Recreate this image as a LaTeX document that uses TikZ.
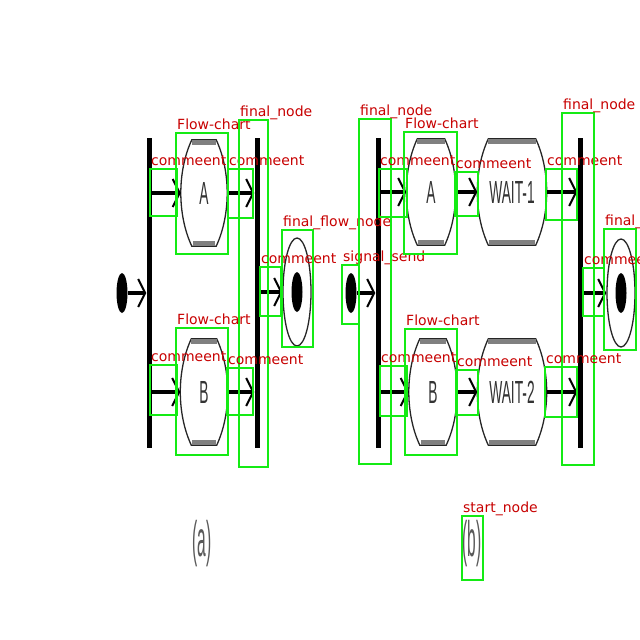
\documentclass[tikz,border=0pt]{standalone}
\usepackage{fontspec}
\usepackage{graphicx}
\usetikzlibrary{shapes.geometric, arrows.meta, calc}
\newfontfamily\fuenteEtiqueta{DejaVu Sans}
\newfontfamily\fuenteDiagrama{Liberation Sans}
\definecolor{colorCaja}{RGB}{20,235,20}
\definecolor{colorEtiqueta}{RGB}{200,0,0}
\newcommand{\apretado}[1]{\scalebox{0.43}[1]{#1}}

\begin{document}
\begin{tikzpicture}[
        x=1pt, y=-1pt,
        act/.style={inner sep=0, minimum height=106pt, text=black!80, font=\fuenteDiagrama\fontsize{32}{34}\selectfont},
        borde/.style={draw=black!85, line width=1.3pt},
        bar/.style={fill=black, inner sep=0, minimum width=5pt, minimum height=310pt},
        ini/.style={ellipse, fill=black, inner sep=0, minimum width=11pt, minimum height=40pt},
        fin/.style={ellipse, draw=black!85, line width=1.3pt, inner sep=0, minimum width=28pt, minimum height=108pt,
            path picture={\fill[black] (path picture bounding box.center) ellipse (5.5pt and 20pt);}},
        flow/.style={line width=3.5pt, -{Straight Barb[length=7pt, width=28pt, line width=2pt]}},
        tapa/.style={line width=5pt, black!50},
        caja/.style={draw=colorCaja, line width=2.5pt},
        etq/.style={anchor=base west, inner sep=0, text=colorEtiqueta, font=\fuenteEtiqueta\fontsize{14}{16}\selectfont},
        sub/.style={text=black!65, font=\fuenteDiagrama\fontsize{50}{52}\selectfont}
    ]
    \fill[white] (0,0) rectangle (640,640);
    \useasboundingbox (0,0) rectangle (640,640);

    % (a)
    \node[ini] (ia) at (122,293) {};
    \node[bar] (fa) at (149,293) {};
    \node[act, minimum width=46pt] (a1) at (204,193) {\apretado{A}};
    \node[act, minimum width=47pt] (b1) at (204,392) {\apretado{B}};
    \node[bar] (ja) at (257,293) {};
    \node[fin] (ffa) at (297,292) {};
    \node[sub] (capa) at (202,544) {\scalebox{0.31}[1]{(a)}};

    % (b)
    \node[ini] (ib) at (351,293) {};
    \node[bar] (fb) at (378,293) {};
    \node[act, minimum width=49pt] (a2) at (431,192) {\apretado{A}};
    \node[act, minimum width=69pt] (w1) at (512,192) {\apretado{WAIT-1}};
    \node[act, minimum width=48pt] (b2) at (433,392) {\apretado{B}};
    \node[act, minimum width=69pt] (w2) at (512,392) {\apretado{WAIT-2}};
    \node[bar] (jb) at (580,293) {};
    \node[fin] (ffb) at (621,293) {};
    \node[sub] (capb) at (472,544) {\scalebox{0.31}[1]{(b)}};

    % contorno de barril
    \foreach \n in {a1, b1, a2, b2, w1, w2} {
        \draw[borde] ([xshift=11pt]\n.north west) -- ([xshift=-11pt]\n.north east)
            .. controls ([xshift=-3.5pt, yshift=-16pt]\n.north east) and ([yshift=18pt]\n.east) .. (\n.east)
            .. controls ([yshift=-18pt]\n.east) and ([xshift=-3.5pt, yshift=16pt]\n.south east) .. ([xshift=-11pt]\n.south east)
            -- ([xshift=11pt]\n.south west)
            .. controls ([xshift=3.5pt, yshift=16pt]\n.south west) and ([yshift=-18pt]\n.west) .. (\n.west)
            .. controls ([yshift=18pt]\n.west) and ([xshift=3.5pt, yshift=-16pt]\n.north west) .. cycle;
        \draw[tapa] ([xshift=11pt, yshift=-2.5pt]\n.north west) -- ([xshift=-11pt, yshift=-2.5pt]\n.north east);
        \draw[tapa] ([xshift=12pt, yshift=2.5pt]\n.south west) -- ([xshift=-12pt, yshift=2.5pt]\n.south east);
    }

    \draw[flow] (ia) -- (ia -| fa.west);
    \foreach \n in {a1, b1} {
        \draw[flow] (fa.east |- \n) -- (\n);
        \draw[flow] (\n) -- (\n -| ja.west);
    }
    \draw[flow] (ja.east |- ffa) -- (ffa);

    \draw[flow] (ib) -- (ib -| fb.west);
    \foreach \n/\m in {a2/w1, b2/w2} {
        \draw[flow] (fb.east |- \n) -- (\n);
        \draw[flow] (\n) -- (\m);
        \draw[flow] (\m) -- (\m -| jb.west);
    }
    \draw[flow] (jb.east |- ffb) -- (ffb);

    % cajas de anotacion
    \foreach \xa/\ya/\xb/\yb/\txt in {
        150/169/177/216/commeent, 176/133/228/254/Flow-chart, 228/169/253/218/commeent,
        239/120/268/467/final\_node, 260/267/281/316/commeent, 282/230/313/347/final\_flow\_node,
        150/365/177/415/commeent, 176/328/228/455/Flow-chart, 227/368/253/415/commeent,
        342/265/359/324/signal\_send, 359/119/391/464/final\_node, 379/169/407/217/commeent,
        404/132/457/254/Flow-chart, 455/172/478/216/commeent, 546/169/577/220/commeent,
        562/113/594/465/final\_node, 583/268/604/316/commeent, 604/229/636/350/final\_flow\_node,
        380/366/407/416/commeent, 405/329/457/455/Flow-chart, 456/370/478/415/commeent,
        545/367/577/417/commeent, 462/516/483/580/start\_node} {
        \draw[caja] (\xa,\ya) rectangle (\xb,\yb);
        \node[etq] (et-\xa-\ya) at (\xa+1,\ya-4) {\txt};
    }
\end{tikzpicture}
\end{document}
